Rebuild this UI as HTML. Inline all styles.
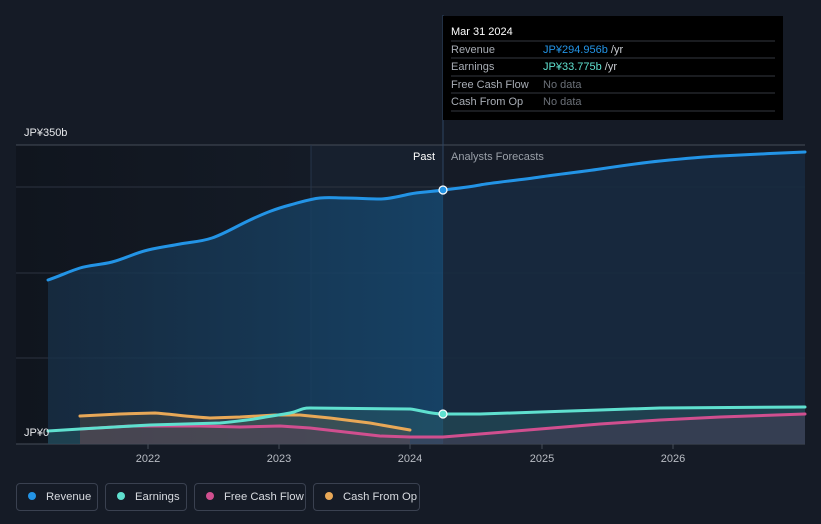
<!DOCTYPE html><html><head><style>
html,body{margin:0;background:#151b26;width:821px;height:524px;overflow:hidden;font-family:"Liberation Sans",sans-serif}
.lg{position:absolute;top:483px;height:28px;border:1px solid #3a4150;border-radius:4px;color:#d8dbe0;font-size:11.3px;line-height:26px;box-sizing:border-box;white-space:nowrap}
.lg i{display:inline-block;width:8px;height:8px;border-radius:50%;margin:0 10px 0 11px}
</style></head><body>
<svg width="821" height="524" style="position:absolute;left:0;top:0;font-family:'Liberation Sans',sans-serif">
<defs><linearGradient id="pg" x1="0" x2="1"><stop offset="0" stop-color="#10151e"/><stop offset="1" stop-color="#141b26"/></linearGradient>
<linearGradient id="rf" x1="0" x2="1"><stop offset="0" stop-color="#173048" stop-opacity=".75"/><stop offset="1" stop-color="#16476e" stop-opacity=".85"/></linearGradient></defs>
<rect x="16" y="145" width="295" height="299" fill="url(#pg)"/>
<rect x="311" y="145" width="132" height="299" fill="#17202e"/>
<g stroke="#2c3340" stroke-width="1"><line x1="16" y1="145" x2="805" y2="145" stroke="#454c58"/><line x1="16" y1="187" x2="805" y2="187"/><line x1="16" y1="273" x2="805" y2="273"/><line x1="16" y1="358" x2="805" y2="358"/><line x1="16" y1="444" x2="805" y2="444" stroke="#454c58"/></g>
<line x1="311" y1="145" x2="311" y2="444" stroke="#26344a"/>
<line x1="443" y1="15" x2="443" y2="444" stroke="#2d4563"/>
<path d="M48,280 C60,276 70,271 80,268 S100,265 112,262 S135,253 148,250 S170,246 180,244 S200,242 212,238 S235,227 250,220 S275,209 290,205 S310,199 320,198 S335,198 345,198 S370,199 380,199 S400,196 410,194 S430,192 443,190 L443,444 L48,444Z" fill="url(#rf)"/>
<path d="M443,190 C460,188 470,187 480,185 S520,180 540,177 S580,172 600,169 S640,163 660,161 S700,157 720,156 S780,153 805,152 L805,444 L443,444Z" fill="#172a40" opacity=".9"/>
<path d="M48,431 L80,429 L150,425 L220,423 C240,421 250,420 260,418 S280,415 290,413 S300,408 310,408 L410,409 C420,410 430,414 443,414 L480,414 L540,412 L600,410 L660,408 L805,407 L805,444 L48,444Z" fill="#2a5e66" opacity=".45"/>
<path d="M80,416 L120,414 L155,413 C170,414 190,417 210,418 L240,417 L275,415 L300,415 L330,418 L370,423 L410,430 L410,444 L80,444Z" fill="#6b5a45" opacity=".35"/>
<path d="M80,429 L130,426 L200,426 L240,427 L280,426 L310,428 L345,432 L380,436 L410,437 L443,437 L480,434 L540,429 L600,424 L660,420 L720,417 L805,414 L805,444 L80,444Z" fill="#6a3a5a" opacity=".3"/>
<g fill="none" stroke-width="3" stroke-linecap="round" stroke-linejoin="round">
<path stroke="#e8a857" d="M80,416 L120,414 L155,413 C170,414 190,417 210,418 L240,417 L275,415 L300,415 L330,418 L370,423 L410,430"/>
<path stroke="#d04f8f" d="M80,429 L130,426 L200,426 L240,427 L280,426 L310,428 L345,432 L380,436 L410,437 L443,437 L480,434 L540,429 L600,424 L660,420 L720,417 L805,414"/>
<path stroke="#5fe0cf" d="M48,431 L80,429 L150,425 L220,423 C240,421 250,420 260,418 S280,415 290,413 S300,408 310,408 L410,409 C420,410 430,414 443,414 L480,414 L540,412 L600,410 L660,408 L805,407"/>
<path stroke="#2394e6" d="M48,280 C60,276 70,271 80,268 S100,265 112,262 S135,253 148,250 S170,246 180,244 S200,242 212,238 S235,227 250,220 S275,209 290,205 S310,199 320,198 S335,198 345,198 S370,199 380,199 S400,196 410,194 S430,192 443,190 C460,188 470,187 480,185 S520,180 540,177 S580,172 600,169 S640,163 660,161 S700,157 720,156 S780,153 805,152"/>
</g>
<circle cx="443" cy="190" r="4" fill="#2394e6" stroke="#fff" stroke-width="1.2"/>
<circle cx="443" cy="414" r="4" fill="#5fe0cf" stroke="#fff" stroke-width="1.2"/>
<text x="24" y="136" fill="#e6e8eb" font-size="11">JP¥350b</text>
<text x="24" y="436" fill="#e6e8eb" font-size="11">JP¥0</text>
<text x="435" y="160" fill="#fff" font-size="11" text-anchor="end">Past</text>
<text x="451" y="160" fill="#9aa0a8" font-size="11">Analysts Forecasts</text>
<g fill="#b9bdc4" font-size="11" text-anchor="middle"><text x="148" y="462">2022</text><text x="279" y="462">2023</text><text x="410" y="462">2024</text><text x="542" y="462">2025</text><text x="673" y="462">2026</text></g>
<g stroke="#454c58"><line x1="148" y1="444" x2="148" y2="449"/><line x1="279" y1="444" x2="279" y2="449"/><line x1="410" y1="444" x2="410" y2="449"/><line x1="542" y1="444" x2="542" y2="449"/><line x1="673" y1="444" x2="673" y2="449"/></g>
<rect x="443" y="16" width="340" height="104" fill="#000"/>
<text x="451" y="35" fill="#fff" font-size="11">Mar 31 2024</text>
<g stroke="#34383f"><line x1="451" y1="41" x2="775" y2="41"/><line x1="451" y1="58" x2="775" y2="58"/><line x1="451" y1="76" x2="775" y2="76"/><line x1="451" y1="93" x2="775" y2="93"/><line x1="451" y1="111" x2="775" y2="111"/></g>
<g font-size="11" fill="#a8adb5"><text x="451" y="53">Revenue</text><text x="451" y="70">Earnings</text><text x="451" y="88">Free Cash Flow</text><text x="451" y="105">Cash From Op</text></g>
<text x="543" y="53" font-size="11" fill="#2394e6">JP¥294.956b <tspan fill="#c9ccd1">/yr</tspan></text>
<text x="543" y="70" font-size="11" fill="#5fe0cf">JP¥33.775b <tspan fill="#c9ccd1">/yr</tspan></text>
<text x="543" y="88" font-size="11" fill="#6b7078">No data</text>
<text x="543" y="105" font-size="11" fill="#6b7078">No data</text>
</svg>
<div class="lg" style="left:16px;width:82px"><i style="background:#2394e6"></i>Revenue</div>
<div class="lg" style="left:105px;width:82px"><i style="background:#5fe0cf"></i>Earnings</div>
<div class="lg" style="left:194px;width:112px"><i style="background:#d04f8f"></i>Free Cash Flow</div>
<div class="lg" style="left:313px;width:107px"><i style="background:#e8a857"></i>Cash From Op</div>
</body></html>
